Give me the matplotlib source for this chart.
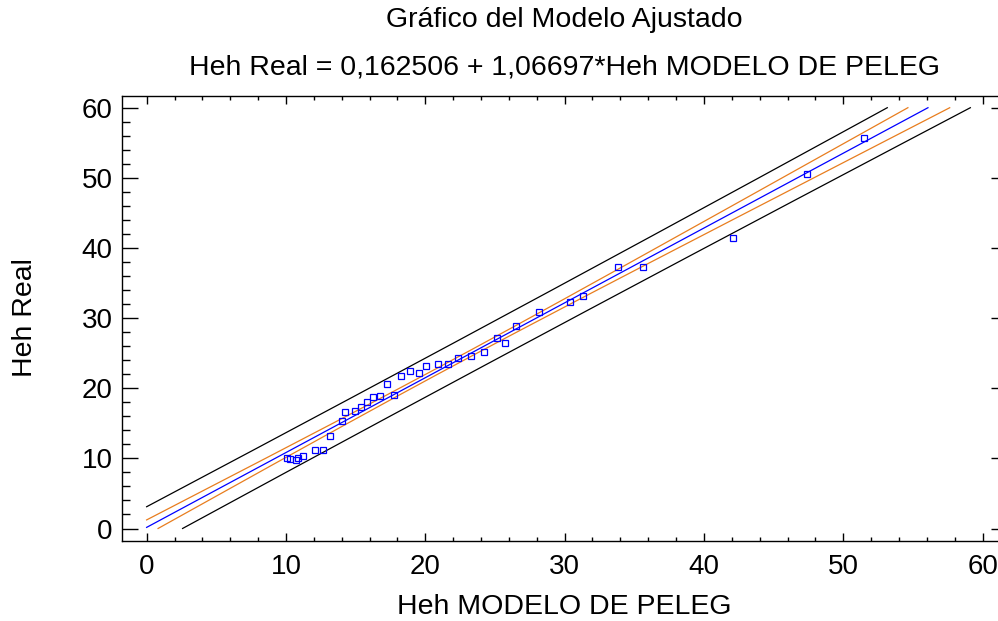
import numpy as np
import matplotlib
matplotlib.use("Agg")
import matplotlib.pyplot as plt
from matplotlib.ticker import MultipleLocator

plt.rcParams['font.family'] = ['Liberation Sans', 'DejaVu Sans']

# Observed data (Heh MODELO DE PELEG, Heh Real)
x_model = [10.09, 10.29, 10.72, 10.84, 11.24, 12.08, 12.63, 13.16, 14.04, 14.21,
           14.98, 15.38, 15.84, 16.27, 16.75, 17.27, 17.72, 18.26, 18.90, 19.55,
           20.05, 20.89, 21.61, 22.33, 23.30, 24.19, 25.13, 25.72, 26.53, 28.16,
           30.41, 31.30, 33.81, 35.61, 42.07, 47.38, 51.51]
y_real = [10.10, 9.95, 9.77, 10.10, 10.34, 11.20, 11.20, 13.19, 15.33, 16.57,
          16.80, 17.28, 18.00, 18.70, 18.94, 20.56, 19.10, 21.79, 22.46, 22.13,
          23.17, 23.46, 23.46, 24.27, 24.64, 25.12, 27.12, 26.43, 28.92, 30.83,
          32.25, 33.20, 37.33, 37.33, 41.42, 50.50, 55.68]

# Fitted model from the title
intercept = 0.162506
slope = 1.06697
t_crit = 2.03  # t(0.975, n-2)

x_ticks = [0, 10, 20, 30, 40, 50, 60]
y_ticks = [0, 10, 20, 30, 40, 50, 60]

title1 = 'Gráfico del Modelo Ajustado'
title2 = 'Heh Real = 0,162506 + 1,06697*Heh MODELO DE PELEG'
xlabel = 'Heh MODELO DE PELEG'
ylabel = 'Heh Real'

xo = np.array(x_model)
yo = np.array(y_real)
n = len(xo)
resid = yo - (intercept + slope * xo)
s = np.sqrt(np.sum(resid ** 2) / (n - 2))
xbar = xo.mean()
sxx = np.sum((xo - xbar) ** 2)

xg = np.linspace(0, 60, 3000)
fit = intercept + slope * xg
conf = t_crit * s * np.sqrt(1.0 / n + (xg - xbar) ** 2 / sxx)
pred = t_crit * s * np.sqrt(1 + 1.0 / n + (xg - xbar) ** 2 / sxx)


def clip(y):
    y = y.copy()
    y[(y < 0) | (y > 60)] = np.nan
    return y


fig = plt.figure(figsize=(9.98, 6.21), dpi=100)
ax = fig.add_axes([0.1225, 0.1296, 0.8865, 0.7163])

ax.plot(xg, clip(fit + pred), color='black', lw=0.9)
ax.plot(xg, clip(fit - pred), color='black', lw=0.9)
ax.plot(xg, clip(fit + conf), color='#E87D1E', lw=0.9)
ax.plot(xg, clip(fit - conf), color='#E87D1E', lw=0.9)
ax.plot(xg, clip(fit), color='#0000FF', lw=0.9)
ax.plot(xo, yo, linestyle='none', marker='s', markersize=4.2,
        markerfacecolor='none', markeredgecolor='#0000FF', markeredgewidth=0.9)

ax.set_xlim(-1.75, 61.75)
ax.set_ylim(-1.71, 61.71)
ax.set_xticks(x_ticks)
ax.set_yticks(y_ticks)
ax.xaxis.set_minor_locator(MultipleLocator(2))
ax.yaxis.set_minor_locator(MultipleLocator(2))

ax.tick_params(axis='both', which='both', direction='in', top=True, right=True,
               width=1.0, labelsize=20, colors='black')
ax.tick_params(axis='x', which='major', length=5.8, pad=10)
ax.tick_params(axis='x', which='minor', length=3.0)
ax.tick_params(axis='y', which='major', length=11.5, pad=7)
ax.tick_params(axis='y', which='minor', length=5.8)

for sp in ax.spines.values():
    sp.set_linewidth(1.0)

fig.text(0.5656, 1 - 20 / 621, title1, ha='center', va='center', fontsize=20.5)
fig.text(0.5656, 1 - 68 / 621, title2, ha='center', va='center', fontsize=20.5)
fig.text(0.5656, 1 - 607 / 621, xlabel, ha='center', va='center', fontsize=20.5)
fig.text(25 / 998, 1 - 318 / 621, ylabel, ha='center', va='center',
         rotation=90, fontsize=20.5)

fig.savefig('out.png', dpi=100)
